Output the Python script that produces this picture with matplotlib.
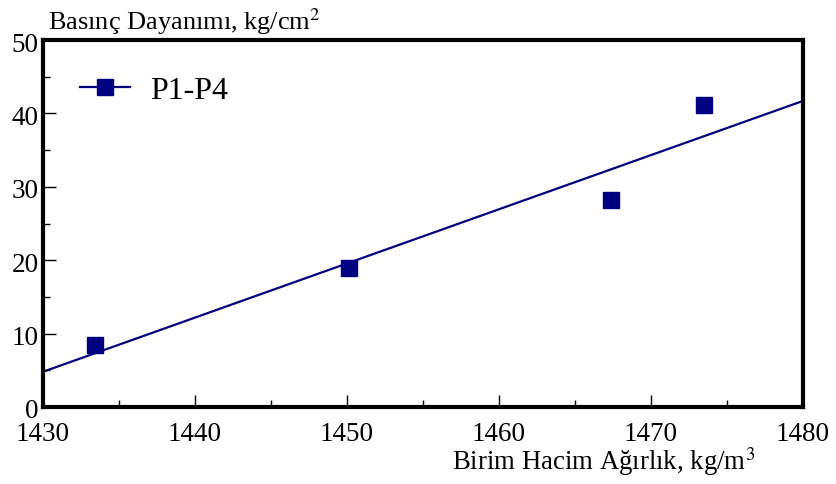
import matplotlib
matplotlib.use("Agg")
import matplotlib.pyplot as plt
import matplotlib.transforms as mtrans
from matplotlib.ticker import MultipleLocator
from matplotlib.lines import Line2D

# Data
density = [1433.4, 1450.1, 1467.4, 1473.5]      # kg/m3
strength = [8.5, 18.9, 28.2, 41.1]              # kg/cm2
trend_x = [1430, 1480]
trend_y = [4.8, 41.7]
series_name = "P1-P4"
xticks = [1430, 1440, 1450, 1460, 1470, 1480]
yticks = [0, 10, 20, 30, 40, 50]

navy = "#000080"
plt.rcParams['font.family'] = ['Liberation Serif', 'DejaVu Serif']
plt.rcParams['mathtext.fontset'] = 'stix'

fig = plt.figure(figsize=(8.37, 4.84), dpi=100)
ax = fig.add_axes([43/837, 1-407/484, (803-43)/837, (407-40)/484])

ax.plot(trend_x, trend_y, color=navy, lw=1.6, zorder=2)
ax.plot(density, strength, ls='none', marker='s', ms=11, color=navy, zorder=3)

ax.set_xlim(1430, 1480)
ax.set_ylim(0, 50)
ax.set_xticks(xticks)
ax.set_yticks(yticks)
ax.xaxis.set_minor_locator(MultipleLocator(5))
ax.yaxis.set_minor_locator(MultipleLocator(5))
ax.tick_params(which='major', direction='in', length=9, width=1, labelsize=19.5,
               top=False, right=False)
ax.tick_params(which='minor', direction='in', length=5, width=1, top=False, right=False)
ax.tick_params(axis='x', pad=11)
ax.tick_params(axis='y', pad=3)
for s in ax.spines.values():
    s.set_linewidth(3)

# y tick labels sit slightly below their ticks in the reference
for lbl in ax.get_yticklabels():
    lbl.set_transform(lbl.get_transform() + mtrans.ScaledTranslation(0, -2/100, fig.dpi_scale_trans))

fig.text(48/837, 1-30/484, r"Basınç Dayanımı, kg/cm$^2$", fontsize=19, ha='left', va='baseline')
fig.text(755/837, 1-470/484, r"Birim Hacim Ağırlık, kg/m$^3$", fontsize=19.3, ha='right', va='baseline')

handle = Line2D([], [], color=navy, lw=1.6, marker='s', ms=11)
leg = ax.legend([handle], [series_name], loc='center left',
                bbox_to_anchor=((80-43)/760, (407-91)/367),
                frameon=False, fontsize=23, handlelength=1.56, handletextpad=0.63,
                borderpad=0, borderaxespad=0)

fig.savefig("out.png", dpi=100)
